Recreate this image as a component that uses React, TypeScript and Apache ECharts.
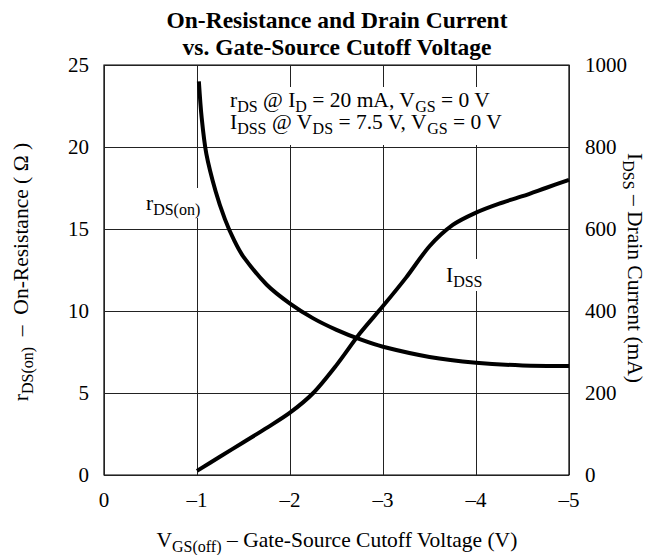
import React, { useEffect, useRef } from "react";
import * as echarts from "echarts";

// ---- data ----
const xTicks = [0, -1, -2, -3, -4, -5];
const rdsVgs = [-1.02, -1.05, -1.1, -1.2, -1.3, -1.4, -1.5, -1.75, -2, -2.25, -2.5, -2.75, -3, -3.5, -4, -4.5, -5];
const rdsOn = [24, 21.8, 19.6, 17.3, 15.6, 14.3, 13.3, 11.6, 10.45, 9.55, 8.85, 8.28, 7.82, 7.2, 6.85, 6.68, 6.65];
const idssVgs = [-1, -1.25, -1.5, -1.75, -2, -2.25, -2.5, -2.75, -3, -3.25, -3.5, -3.75, -4, -4.25, -4.5, -4.75, -5];
const idssMA = [10, 45, 80, 115, 152, 200, 268, 345, 412, 482, 558, 610, 640, 662, 680, 700, 720];

const SERIF = '"Liberation Serif", "Times New Roman", "DejaVu Serif", serif';

export default function App() {
  const ref = useRef<HTMLDivElement>(null);
  useEffect(() => {
    const chart = echarts.init(ref.current as HTMLDivElement, null, { renderer: "svg" });
    const F = 21.5;
    const S = 16;
    const rich: any = {
      m: { fontFamily: SERIF, fontSize: F, lineHeight: 22, fill: "#000", color: "#000" },
      s: { fontFamily: SERIF, fontSize: S, lineHeight: 22, padding: [13, 0, 0, 0], fill: "#000", color: "#000" },
    };
    const txt = (x: number, y: number, text: string, extra: any = {}, rot = 0, z = 1) => ({
      type: "text",
      x,
      y,
      rotation: rot,
      z,
      style: {
        text,
        rich,
        fontFamily: SERIF,
        fontSize: F,
        fill: "#000",
        align: "center",
        verticalAlign: "middle",
        textAlign: "center",
        textVerticalAlign: "middle",
        ...extra,
      },
    });
    const labelStyle = { fontFamily: SERIF, fontSize: 21, color: "#000" };
    chart.setOption({
      animation: false,
      backgroundColor: "#fff",
      grid: {
        left: 104,
        right: 79,
        top: 65,
        bottom: 80,
        show: true,
        borderColor: "#000",
        borderWidth: 1.2,
        backgroundColor: "transparent",
      },
      xAxis: {
        type: "value",
        min: -5,
        max: 0,
        interval: 1,
        inverse: true,
        axisLine: { show: false },
        axisTick: { show: false },
        splitLine: { show: true, lineStyle: { color: "#222", width: 1 } },
        axisLabel: {
          ...labelStyle,
          margin: 14,
          formatter: (v: number) => (xTicks.includes(v) ? (v === 0 ? "0" : "\u2013" + Math.abs(v)) : ""),
        },
      },
      yAxis: [
        {
          type: "value",
          position: "left",
          min: 0,
          max: 25,
          interval: 5,
          axisLine: { show: false },
          axisTick: { show: false },
          splitLine: { show: true, lineStyle: { color: "#222", width: 1 } },
          axisLabel: { ...labelStyle, margin: 15, formatter: (v: number) => String(v) },
        },
        {
          type: "value",
          position: "right",
          min: 0,
          max: 1000,
          interval: 200,
          axisLine: { show: false },
          axisTick: { show: false },
          splitLine: { show: false },
          axisLabel: { ...labelStyle, margin: 16, formatter: (v: number) => String(v) },
        },
      ],
      series: [
        {
          type: "line",
          xAxisIndex: 0,
          yAxisIndex: 0,
          data: rdsVgs.map((x, i) => [x, rdsOn[i]]),
          smooth: 0.3,
          symbol: "none",
          z: 5,
          lineStyle: { color: "#000", width: 4 },
        },
        {
          type: "line",
          xAxisIndex: 0,
          yAxisIndex: 1,
          data: idssVgs.map((x, i) => [x, idssMA[i]]),
          smooth: 0.3,
          symbol: "none",
          z: 5,
          lineStyle: { color: "#000", width: 4 },
        },
      ],
      graphic: [
        txt(337, 20, "On-Resistance and Drain Current", { rich: undefined, fontSize: 23.5, fontWeight: "bold" }),
        txt(337, 47, "vs. Gate-Source Cutoff Voltage", { rich: undefined, fontSize: 23.5, fontWeight: "bold" }),
        txt(
          222,
          87,
          "{m|r}{s|DS}{m| @ I}{s|D}{m| = 20 mA, V}{s|GS}{m| = 0 V}\n{m|I}{s|DSS}{m| @ V}{s|DS}{m| = 7.5 V, V}{s|GS}{m| = 0 V}",
          {
            align: "left",
            verticalAlign: "top",
            textAlign: "left",
            textVerticalAlign: "top",
            backgroundColor: "#fff",
            padding: [2, 8, 12, 8],
          }
        ),
        txt(144, 203, "{m|r}{s|DS(on)}", {
          align: "left",
          textAlign: "left",
          backgroundColor: "#fff",
          padding: [4, 2, 4, 2],
        }),
        txt(444, 275, "{m|I}{s|DSS}", {
          align: "left",
          textAlign: "left",
          backgroundColor: "#fff",
          padding: [5, 2, 5, 2],
        }),
        txt(337, 540, "{m|V}{s|GS(off)}{m| \u2013 Gate-Source Cutoff Voltage (V)}"),
        txt(21, 272, "{m|r}{s|DS(on)}{m|  \u2013  On-Resistance ( \u03A9 )}", {}, Math.PI / 2),
        txt(635, 268, "{m|I}{s|DSS}{m| \u2013 Drain Current (mA)}", {}, -Math.PI / 2),
      ],
    });
    return () => chart.dispose();
  }, []);
  return <div ref={ref} style={{ position: "fixed", left: 0, top: 0, width: 648, height: 555 }} />;
}
